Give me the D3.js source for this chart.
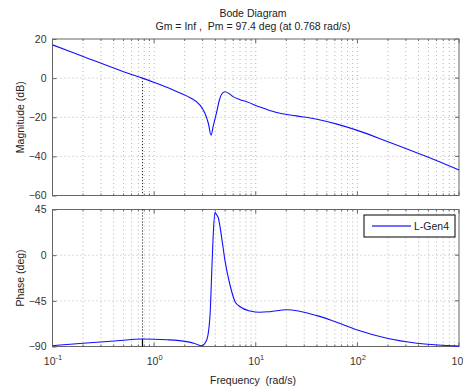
<!DOCTYPE html>
<html>
<head>
<meta charset="utf-8">
<script src="https://cdn.jsdelivr.net/npm/d3@7"></script>
<style>
  body { margin: 0; background: #fff; }
  svg { font-family: "Liberation Sans", Arial, sans-serif; }
  text { white-space: pre; }
</style>
</head>
<body>
<svg width="463" height="390"></svg>
<script>
// données
let magFreq = [0.1, 0.2, 0.5, 0.768, 1, 1.5, 1.8, 2.26, 2.83, 3.17, 3.42, 3.63, 3.83, 4.13, 4.38, 4.8, 5.0, 5.5, 6.02, 7, 8.15, 11, 16, 25, 40, 63, 100, 200, 500, 1000];
let magDb = [17, 11.1, 3.3, 0, -2.2, -5.8, -7.6, -10, -13.8, -18.1, -23.2, -29.2, -24.1, -17.3, -11.3, -7.3, -7.0, -8.0, -9.6, -11, -12.1, -14.8, -17.6, -19.3, -21, -23.5, -26.7, -32.5, -40.5, -47];

let phFreq = [0.1, 0.2, 0.4, 0.768, 1.33, 2.09, 2.5, 2.94, 3.29, 3.55, 3.69, 3.83, 3.97, 4.1, 4.28, 4.63, 5.0, 5.58, 6.26, 7.01, 8.8, 11, 13.8, 20, 40, 58, 100, 195, 385, 1000];
let phDeg = [-89.2, -86.8, -84.6, -82.6, -83.3, -85.2, -87, -89.2, -83.6, -59, -16.3, 23.1, 42.2, 40, 36.9, 16.6, -6.4, -29.4, -45.8, -50.8, -55, -56.3, -55.7, -53.8, -59.6, -64.9, -73.7, -81.9, -86.8, -89.6];

let magTicks = [20, 0, -20, -40, -60];
let phTicks = [45, 0, -45, -90];
let decades = [0.1, 1, 10, 100, 1000];
let exposants = ["-1", "0", "1", "2", "3"];

let wPm = 0.768;
let phPm = -82.6;

let titre = "Bode Diagram";
let sousTitre = "Gm = Inf ,  Pm = 97.4 deg (at 0.768 rad/s)";
let serie = "L-Gen4";

// mise en page
let svg = d3.select("svg");
let x = d3.scaleLog().domain([0.1, 1000]).range([52.5, 459]);
let yMag = d3.scaleLinear().domain([-60, 20]).range([195.5, 39]);
let yPh = d3.scaleLinear().domain([-90, 45]).range([346.5, 209.5]);

// toutes les fréquences de la grille (1..9 par décade)
let grille = [];
decades.slice(0, 4).forEach(d => {
    for (let m = 1; m <= 9; m++) grille.push(d * m);
});
grille.push(1000);

function panneau(y, ticks) {
    let g = svg.append("g");
    let [y0, y1] = y.range();
    let x0 = x.range()[0], x1 = x.range()[1];

    // grille verticale
    g.selectAll("line.gv").data(grille.filter(f => f > 0.1 && f < 1000)).enter()
        .append("line")
        .attr("x1", d => x(d)).attr("x2", d => x(d))
        .attr("y1", y1).attr("y2", y0)
        .attr("stroke", "#b4b4b4")
        .attr("stroke-dasharray", "1,3");

    // grille horizontale
    g.selectAll("line.gh").data(ticks.filter(t => y(t) > y1 + 1 && y(t) < y0 - 1)).enter()
        .append("line")
        .attr("x1", x0).attr("x2", x1)
        .attr("y1", d => y(d)).attr("y2", d => y(d))
        .attr("stroke", "#b4b4b4")
        .attr("stroke-dasharray", "1,3");

    // petites graduations en haut et en bas
    grille.forEach(f => {
        let l = decades.includes(f) ? 4 : 2;
        g.append("line").attr("x1", x(f)).attr("x2", x(f)).attr("y1", y0).attr("y2", y0 - l).attr("stroke", "#666");
        g.append("line").attr("x1", x(f)).attr("x2", x(f)).attr("y1", y1).attr("y2", y1 + l).attr("stroke", "#666");
    });

    // axe gauche
    let axe = g.append("g")
        .attr("transform", `translate(${x0},0)`)
        .call(d3.axisLeft(y).tickValues(ticks).tickSize(-4).tickPadding(6));
    axe.select(".domain").remove();
    axe.selectAll(".tick line").attr("stroke", "#666");
    axe.selectAll("text").attr("font-size", 10.5).attr("fill", "#333")
        .attr("font-family", "Liberation Sans, Arial, sans-serif");

    // graduations à droite
    g.selectAll("line.td").data(ticks).enter()
        .append("line")
        .attr("x1", x1).attr("x2", x1 - 4)
        .attr("y1", d => y(d)).attr("y2", d => y(d))
        .attr("stroke", "#666");

    // cadre
    g.append("rect")
        .attr("x", x0).attr("y", y1)
        .attr("width", x1 - x0).attr("height", y0 - y1)
        .attr("fill", "none")
        .attr("stroke", "#666");
    return g;
}

let gMag = panneau(yMag, magTicks);
let gPh = panneau(yPh, phTicks);

// marges de phase (lignes noires)
gMag.append("line")
    .attr("x1", x(wPm)).attr("x2", x(wPm))
    .attr("y1", yMag(0)).attr("y2", yMag(-60))
    .attr("stroke", "#000").attr("stroke-dasharray", "1,2");
gPh.append("line")
    .attr("x1", x(wPm)).attr("x2", x(wPm))
    .attr("y1", yPh(45)).attr("y2", yPh(-90))
    .attr("stroke", "#000").attr("stroke-dasharray", "1,2");
gPh.append("line")
    .attr("x1", x(wPm)).attr("x2", x(wPm))
    .attr("y1", yPh(phPm)).attr("y2", yPh(-90))
    .attr("stroke", "#000").attr("stroke-width", 1.2);

// courbes
let ligneMag = d3.line()
    .x((d, i) => x(magFreq[i]))
    .y(d => yMag(d))
    .curve(d3.curveMonotoneX);
let lignePh = d3.line()
    .x((d, i) => x(phFreq[i]))
    .y(d => yPh(d))
    .curve(d3.curveMonotoneX);

gMag.append("path").datum(magDb)
    .attr("d", ligneMag)
    .attr("fill", "none").attr("stroke", "#1010ff").attr("stroke-width", 1.1);
gPh.append("path").datum(phDeg)
    .attr("d", lignePh)
    .attr("fill", "none").attr("stroke", "#1010ff").attr("stroke-width", 1.1);

// axe des fréquences avec exposants
let axeX = svg.append("g")
    .attr("transform", `translate(0,${yPh.range()[0]})`)
    .call(d3.axisBottom(x).tickValues(decades).tickSize(0).tickFormat(""));
axeX.select(".domain").remove();
axeX.selectAll(".tick").each(function (d, i) {
    let t = d3.select(this).append("text")
        .attr("y", 18)
        .attr("text-anchor", "middle")
        .attr("fill", "#333")
        .attr("font-size", 10.5);
    t.append("tspan").text("10");
    t.append("tspan").attr("dy", -5).attr("font-size", 7.5).text(exposants[i]);
});

// textes
svg.append("text").attr("x", 253).attr("y", 17).attr("text-anchor", "middle")
    .attr("font-size", 10.5).attr("fill", "#222").text(titre);
svg.append("text").attr("x", 253).attr("y", 30).attr("text-anchor", "middle")
    .attr("font-size", 10.5).attr("fill", "#222").text(sousTitre);
svg.append("text").attr("x", 253).attr("y", 384).attr("text-anchor", "middle")
    .attr("font-size", 10.5).attr("fill", "#222").text("Frequency  (rad/s)");
svg.append("text")
    .attr("transform", `translate(24,${(yMag.range()[0] + yMag.range()[1]) / 2}) rotate(-90)`)
    .attr("text-anchor", "middle").attr("font-size", 10.5).attr("fill", "#222")
    .text("Magnitude (dB)");
svg.append("text")
    .attr("transform", `translate(24,${(yPh.range()[0] + yPh.range()[1]) / 2}) rotate(-90)`)
    .attr("text-anchor", "middle").attr("font-size", 10.5).attr("fill", "#222")
    .text("Phase (deg)");

// légende
let leg = svg.append("g");
leg.append("rect").attr("x", 364).attr("y", 215).attr("width", 91).attr("height", 22)
    .attr("fill", "#fff").attr("stroke", "#000");
leg.append("line").attr("x1", 372).attr("x2", 411).attr("y1", 226).attr("y2", 226)
    .attr("stroke", "#4040ff").attr("stroke-width", 1.3);
leg.append("text").attr("x", 414).attr("y", 230)
    .attr("font-size", 10.5).attr("fill", "#222").text(serie);
</script>
</body>
</html>
